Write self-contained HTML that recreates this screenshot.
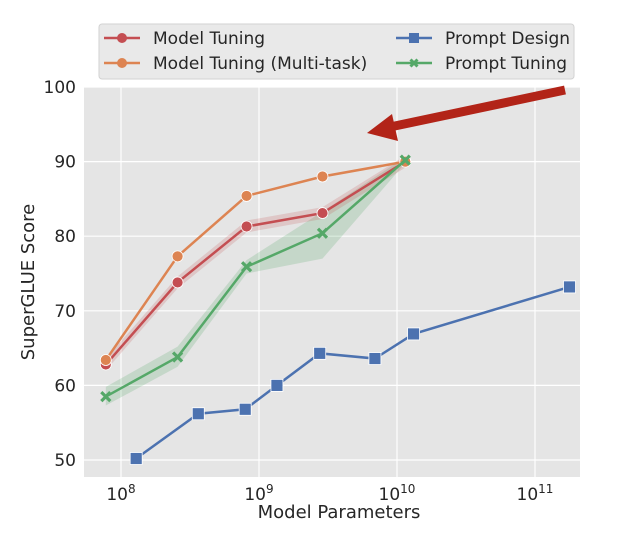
<!DOCTYPE html>
<html><head><meta charset="utf-8"><style>
body{margin:0;background:#fff;font-family:"Liberation Sans","DejaVu Sans",sans-serif}
svg text{font-family:"DejaVu Sans","Liberation Sans",sans-serif;fill:#262626}
</style></head><body>
<svg id="chart" width="636" height="538" viewBox="0 0 636 538" xmlns="http://www.w3.org/2000/svg">
<rect x="84" y="87" width="496" height="390" fill="#e5e5e5"/>
<g id="grid"></g><g id="bands"></g><g id="lines"></g><g id="axes"></g>
<g>
<rect x="99" y="24" width="475" height="55" rx="3" fill="#e8e8e8" stroke="#d0d0d0" opacity="0.95"/>
<line x1="104" y1="38" x2="140" y2="38" stroke="#c44e52" stroke-width="2.5"/><circle cx="122" cy="38" r="5" fill="#c44e52"/>
<text x="153" y="44" font-size="17">Model Tuning</text>
<line x1="104" y1="63" x2="140" y2="63" stroke="#dd8452" stroke-width="2.5"/><circle cx="122" cy="63" r="5" fill="#dd8452"/>
<text x="153" y="69" font-size="17">Model Tuning (Multi-task)</text>
<line x1="396" y1="38" x2="432" y2="38" stroke="#4c72b0" stroke-width="2.5"/><rect x="409" y="33" width="10" height="10" fill="#4c72b0"/>
<text x="445" y="44" font-size="17">Prompt Design</text>
<line x1="396" y1="63" x2="432" y2="63" stroke="#55a868" stroke-width="2.5"/><path d="M410.5,59.5L417.5,66.5M417.5,59.5L410.5,66.5" stroke="#55a868" stroke-width="3"/>
<text x="445" y="69" font-size="17">Prompt Tuning</text>
</g>
<g>
<line x1="565" y1="90" x2="390" y2="127" stroke="#b22418" stroke-width="9"/>
<polygon points="367,133 392,114 398,141" fill="#b22418"/>
</g>
<text x="339" y="518" font-size="18" text-anchor="middle">Model Parameters</text>
<text transform="translate(34,282) rotate(-90)" font-size="18" text-anchor="middle">SuperGLUE Score</text>
</svg>
<script>
const mtX=[7.89,8.41,8.91,9.46,10.06];
const mtY=[62.8,73.8,81.3,83.1,90.0];
const mtmY=[63.4,77.3,85.4,88.0,90.0];
const ptY=[58.5,63.8,75.9,80.4,90.2];
const ptLo=[57.3,62.5,75.0,77.0,89.8];
const ptHi=[59.8,65.2,76.8,83.3,90.6];
const pdX=[8.11,8.56,8.90,9.13,9.44,9.84,10.12,11.25];
const pdY=[50.2,56.2,56.8,60.0,64.3,63.6,66.9,73.2];
const yTicks=[50,60,70,80,90,100];
const xTicks=[8,9,10,11];
const NS="http://www.w3.org/2000/svg";
const sx=v=>121+(v-8)*138, sy=v=>460-(v-50)*7.46;
function mk(p,t,a){const e=document.createElementNS(NS,t);for(const k in a)e.setAttribute(k,a[k]);document.getElementById(p).appendChild(e);return e;}
yTicks.forEach(t=>{const l=mk('grid','line',{x1:84,x2:580,y1:sy(t),y2:sy(t),stroke:'#fff','stroke-width':1.2});


const tx=mk('axes','text',{x:76,y:sy(t)+6,'font-size':17,'text-anchor':'end'});tx.textContent=t;

});
xTicks.forEach(t=>{const l=mk('grid','line',{x1:sx(t),x2:sx(t),y1:87,y2:477,stroke:'#fff','stroke-width':1.2});


const tx=mk('axes','text',{x:sx(t),y:500,'font-size':17,'text-anchor':'middle'});tx.innerHTML='10<tspan dy="-7" font-size="12">'+t+'</tspan>';

});
let pts=mtX.map((x,i)=>sx(x)+','+sy(ptHi[i])).concat(mtX.map((x,i)=>sx(x)+','+sy(ptLo[i])).reverse());
const b=mk('bands','polygon',{points:pts.join(' '),fill:'#55a868',opacity:0.22});


pts=mtX.map((x,i)=>sx(x)+','+sy(mtY[i]+0.8)).concat(mtX.map((x,i)=>sx(x)+','+sy(mtY[i]-0.8)).reverse());
const b2=mk('bands','polygon',{points:pts.join(' '),fill:'#c44e52',opacity:0.2});


function series(name,xs,ys,col,mark){
 const pl=mk('lines','polyline',{points:xs.map((x,i)=>sx(x)+','+sy(ys[i])).join(' '),fill:'none',stroke:col,'stroke-width':2.5});
 
 
 xs.forEach((x,i)=>{const X=sx(x),Y=sy(ys[i]);let m;
  if(mark==='o')m=mk('lines','circle',{cx:X,cy:Y,r:5.5,fill:col,stroke:'#fff','stroke-width':0.8});
  else if(mark==='s')m=mk('lines','rect',{x:X-6,y:Y-6,width:12,height:12,fill:col,stroke:'#fff','stroke-width':0.8});
  else m=mk('lines','path',{d:`M${X-4.5},${Y-4.5}L${X+4.5},${Y+4.5}M${X+4.5},${Y-4.5}L${X-4.5},${Y+4.5}`,stroke:col,'stroke-width':3.2});
  
  });
}
series('prompt-design',pdX,pdY,'#4c72b0','s');
series('model-tuning',mtX,mtY,'#c44e52','o');
series('model-tuning-multitask',mtX,mtmY,'#dd8452','o');
series('prompt-tuning',mtX,ptY,'#55a868','x');
</script>
</body></html>
